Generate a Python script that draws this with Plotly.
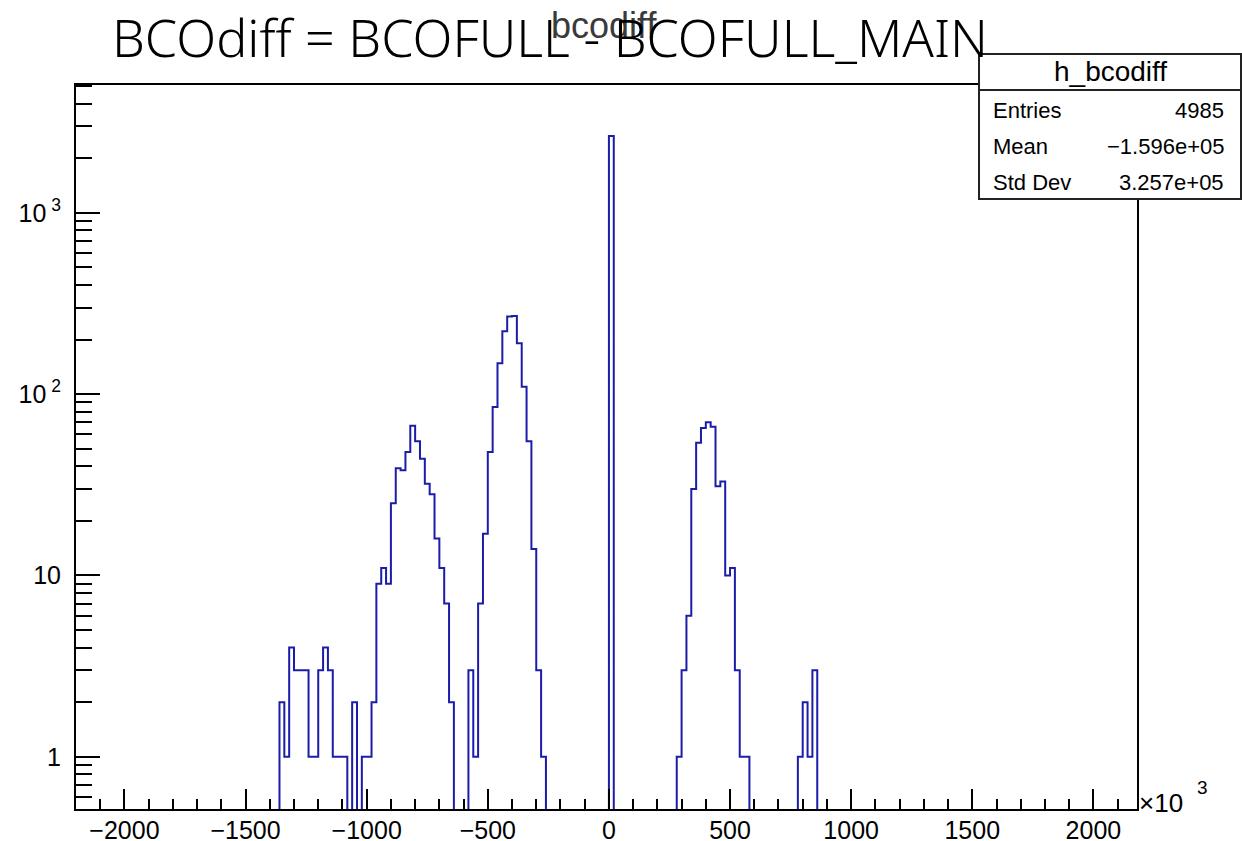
import numpy as np
import plotly.graph_objects as go

# Histogram h_bcodiff: bins of 20 (x10^3) from -2200 to 2180
hist_lo = -2200
hist_hi = 2180
bin_width = 20

# Left edges (x10^3) of the non-empty bins and their contents
bin_left = [-1360, -1340, -1320, -1300, -1280, -1260, -1240, -1220, -1200, -1180,
            -1160, -1140, -1120, -1100, -1060, -1020, -1000, -980,
            -960, -940, -920, -900, -880, -860, -840, -820, -800, -780,
            -760, -740, -720, -700, -680, -660,
            -580, -560, -540, -520, -500, -480, -460, -440, -420, -400,
            -380, -360, -340, -320, -300, -280,
            0,
            280, 300, 320, 340, 360, 380, 400, 420, 440, 460, 480, 500, 520, 540, 560,
            780, 800, 820, 840]
counts = [2, 1, 4, 3, 3, 3, 1, 1, 3, 4,
          3, 1, 1, 1, 2, 1, 1, 2,
          9, 11, 9, 25, 39, 38, 48, 67, 55, 44,
          32, 28, 16, 11, 7, 2,
          3, 1, 7, 17, 48, 85, 148, 222, 268, 270,
          191, 110, 55, 14, 3, 1,
          2650,
          1, 3, 6, 30, 54, 65, 70, 66, 31, 33, 10, 11, 3, 1, 1,
          1, 2, 1, 3]

# Axis tick labels
x_tickvals = [-2000, -1500, -1000, -500, 0, 500, 1000, 1500, 2000]
x_ticktext = ["\u22122000", "\u22121500", "\u22121000", "\u2212500", "0", "500", "1000", "1500", "2000"]
y_tickvals = [1, 10, 100, 1000]
y_ticktext = ["1", "10", "10<sup> 2</sup>", "10<sup> 3</sup>"]

# Statistics box contents
stats_name = "h_bcodiff"
stats_rows = [("Entries", "4985"), ("Mean", "\u22121.596e+05"), ("Std Dev", "3.257e+05")]

title_main = "BCOdiff = BCOFULL - BCOFULL_MAIN"
title_hist = "bcodiff"

# ---- build the full binned contents ----
n_bins = int(round((hist_hi - hist_lo) / bin_width))
edges = hist_lo + bin_width * np.arange(n_bins + 1)
content = np.zeros(n_bins)
for left, c in zip(bin_left, counts):
    content[int(round((left - hist_lo) / bin_width))] = c

# empty bins sit far below the log-axis floor so the outline drops to the frame
log_floor = 1e-3
yvals = np.where(content > 0, content, log_floor)
xs = np.append(edges[:-1], edges[-1])
ys = np.append(yvals, yvals[-1])

# ---- figure geometry ----
W, H = 1242, 841
L, R, T, B = 76, 105, 85, 32
PW, PH = W - L - R, H - T - B


def px_x(px):
    return (px - L) / PW


def px_y(py):
    return (H - B - py) / PH


fig = go.Figure()
fig.add_trace(go.Scatter(
    x=xs, y=ys, mode="lines", line=dict(shape="hv", color="#1c1caa", width=2),
    hoverinfo="skip", showlegend=False,
))

y_minor = []
for dec in [0.1, 1, 10, 100, 1000]:
    for m in range(2, 10):
        v = m * dec
        if 0.515 < v < 5070:
            y_minor.append(v)

font_axis = dict(family="Liberation Sans, Arial, sans-serif", size=25, color="black")

fig.update_layout(
    width=W, height=H,
    margin=dict(l=L, r=R, t=T, b=B, pad=0, autoexpand=False),
    paper_bgcolor="white", plot_bgcolor="white",
    showlegend=False,
    xaxis=dict(
        range=[hist_lo, hist_hi], showgrid=False, zeroline=False, automargin=False,
        showline=True, linecolor="black", linewidth=2, mirror=True,
        ticks="inside", ticklen=20, tickwidth=2, tickcolor="black",
        tickmode="array", tickvals=x_tickvals, ticktext=x_ticktext,
        tickfont=font_axis, ticklabelstandoff=-2,
        minor=dict(ticks="inside", ticklen=10, tickwidth=2, tickcolor="black",
                   dtick=100, tick0=0, showgrid=False),
    ),
    yaxis=dict(
        type="log", range=[np.log10(0.515), np.log10(5070)],
        showgrid=False, zeroline=False, automargin=False,
        showline=True, linecolor="black", linewidth=2, mirror=True,
        ticks="inside", ticklen=24, tickwidth=2, tickcolor="black",
        tickmode="array", tickvals=y_tickvals, ticktext=y_ticktext,
        tickfont=font_axis, ticklabelstandoff=8,
        minor=dict(ticks="inside", ticklen=16, tickwidth=2, tickcolor="black",
                   tickmode="array", tickvals=y_minor, showgrid=False),
    ),
)

annotations = []
# histogram title (drawn first so the caption lies over it)
annotations.append(dict(
    text=title_hist, x=px_x(604), y=px_y(25), xref="paper", yref="paper",
    xanchor="center", yanchor="middle", showarrow=False,
    font=dict(family="Liberation Sans, Arial, sans-serif", size=36, color="#3a3a3a"),
))
annotations.append(dict(
    text=title_main, x=px_x(110), y=px_y(36), xref="paper", yref="paper",
    xanchor="left", yanchor="middle", showarrow=False,
    font=dict(family="Noto Sans, sans-serif", size=52, color="black", weight=300),
))
# exponent of the x axis
annotations.append(dict(
    text="\u00d710", x=px_x(1137), y=px_y(803), xref="paper", yref="paper",
    xanchor="left", yanchor="middle", showarrow=False,
    font=dict(family="Liberation Sans, Arial, sans-serif", size=26, color="black"),
))
annotations.append(dict(
    text="3", x=px_x(1195), y=px_y(787), xref="paper", yref="paper",
    xanchor="left", yanchor="middle", showarrow=False,
    font=dict(family="Liberation Sans, Arial, sans-serif", size=19, color="black"),
))

# statistics box
box_x0, box_x1, box_y0, box_y1, box_sep = 979, 1241, 54, 199, 90
shapes = [
    dict(type="rect", xref="paper", yref="paper",
         x0=px_x(box_x0), x1=px_x(box_x1), y0=px_y(box_y1), y1=px_y(box_y0),
         fillcolor="white", line=dict(color="#222222", width=2), layer="above"),
    dict(type="line", xref="paper", yref="paper",
         x0=px_x(box_x0), x1=px_x(box_x1), y0=px_y(box_sep), y1=px_y(box_sep),
         line=dict(color="#222222", width=2), layer="above"),
]
font_stats = dict(family="Liberation Sans, Arial, sans-serif", size=22, color="black")
annotations.append(dict(
    text=stats_name, x=px_x((box_x0 + box_x1) / 2), y=px_y(71), xref="paper", yref="paper",
    xanchor="center", yanchor="middle", showarrow=False,
    font=dict(family="Liberation Sans, Arial, sans-serif", size=28, color="black"),
))
row_y = [110, 146.5, 182.5]
for (label, value), ry in zip(stats_rows, row_y):
    annotations.append(dict(
        text=label, x=px_x(991), y=px_y(ry), xref="paper", yref="paper",
        xanchor="left", yanchor="middle", showarrow=False, font=font_stats,
    ))
    annotations.append(dict(
        text=value, x=px_x(1226), y=px_y(ry), xref="paper", yref="paper",
        xanchor="right", yanchor="middle", showarrow=False, font=font_stats,
    ))

fig.update_layout(annotations=annotations, shapes=shapes)
fig.write_html("out.html")
